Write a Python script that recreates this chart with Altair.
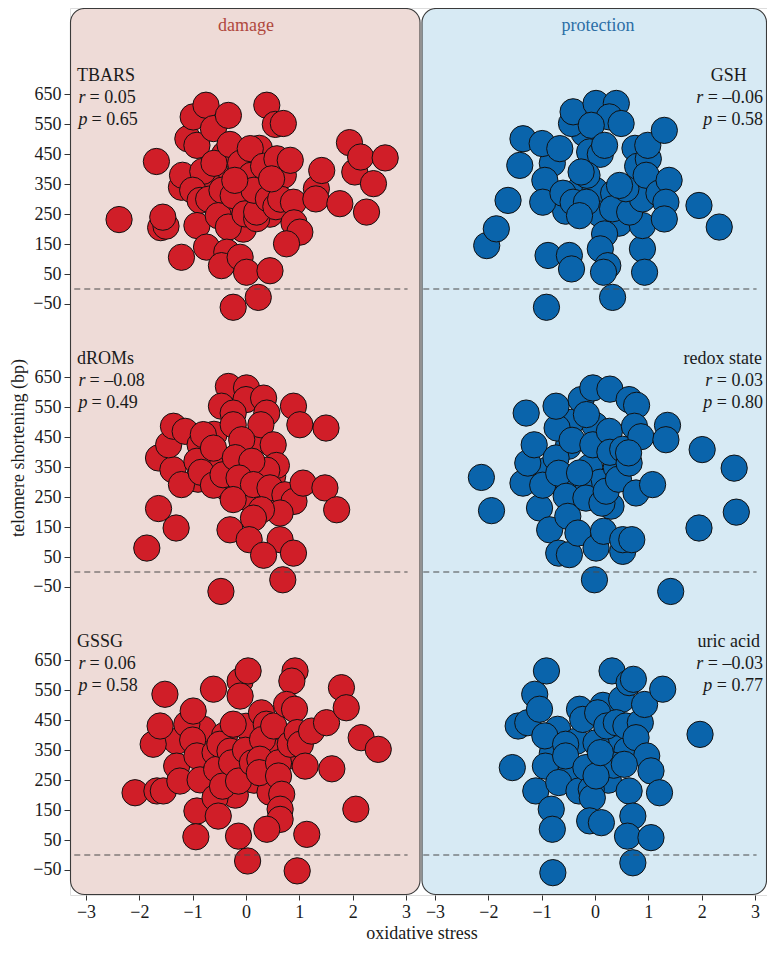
import altair as alt
import pandas as pd

# ---------------- data ----------------
tbars = [(-0.55,380),(-0.15,290),(0.05,330),(0.3,350),(-0.4,450),(0.25,470),(-0.7,350),(0.45,250),
         (-0.05,200),(0.7,380),
         (-2.38,232),(-1.68,426),(-1.6,205),(-1.5,210),(-1.56,240),(-1.21,106),(-1.21,340),(-1.19,380),
         (-1.09,502),(-0.99,575),(-0.75,614),(-0.92,480),(-0.81,393),(-1.0,330),(-0.86,296),(-0.7,300),
         (-0.92,212),(-0.74,140),(-0.61,536),(-0.6,420),(-0.33,580),(-0.30,483),(-0.45,330),(-0.52,245),
         (-0.33,207),(-0.24,312),(-0.1,420),(-0.36,123),(-0.46,78),(-0.11,106),(0.01,56),(-0.24,-61),
         (0.23,-28),(0.45,61),(-0.02,251),(0.2,235),(0.2,257),(0.1,380),(0.15,330),(0.08,469),(0.33,410),
         (0.42,301),(0.56,275),(0.65,300),(0.58,435),(0.39,614),(0.55,550),(0.7,553),(0.83,430),
         (0.89,290),(0.9,221),(1.01,190),(0.76,151),(1.32,335),(1.31,301),(1.42,396),(1.76,285),
         (1.94,489),(2.04,391),(2.15,441),(2.26,257),(2.39,352),(2.61,438),(-0.21,363),(0.48,368)]
gsh = [(-0.3,330),(0.0,330),(0.35,320),(0.6,300),(-0.55,260),(0.1,250),(0.45,220),(-0.2,520),
       (0.75,470),(-0.8,420),
       (-2.03,145),(-1.85,201),(-1.63,296),(-1.35,502),(-1.41,413),(-0.99,486),(-0.66,469),(-0.94,363),
       (-0.98,290),(-0.6,320),(-0.88,112),(-0.48,112),(-0.44,67),(-0.91,-61),(-0.44,553),(-0.41,592),
       (0.02,620),(0.40,620),(0.27,575),(0.49,553),(-0.07,547),(-0.1,458),(0.1,450),(0.18,480),
       (-0.15,380),(-0.41,290),(-0.16,290),(-0.29,245),(0.33,268),(0.18,184),(0.10,134),(0.24,78),
       (0.16,56),(0.33,-28),(0.89,134),(0.93,56),(0.89,212),(0.65,257),(0.89,301),(0.58,335),
       (0.46,346),(0.8,410),(1.0,435),(0.96,380),(0.99,480),(1.30,530),(1.2,320),(1.39,363),
       (1.33,290),(1.30,234),(1.95,279),(2.33,207),(-0.26,391)]
droms = [(-0.5,380),(-0.1,400),(0.25,440),(0.2,330),(-0.35,280),(0.5,320),(-0.9,310),(0.35,250),
         (0.0,250),(-0.6,460),
         (-1.86,80),(-1.64,212),(-1.31,147),(-1.64,381),(-1.37,342),(-1.21,292),(-1.45,425),(-1.36,487),
         (-1.14,470),(-0.86,425),(-0.92,370),(-0.84,333),(-0.8,459),(-0.61,414),(-0.61,290),(-0.43,325),
         (-0.33,620),(0.01,615),(0.0,576),(0.33,581),(-0.46,554),(-0.24,531),(0.39,531),(0.89,554),
         (1.01,492),(1.50,481),(0.28,492),(-0.24,492),(-0.08,442),(-0.2,382),(0.51,425),(0.57,356),
         (0.39,340),(0.11,370),(-0.13,314),(0.14,292),(0.45,281),(0.73,258),(0.9,236),(1.07,297),
         (1.48,281),(1.70,208),(0.64,197),(0.29,208),(0.14,180),(-0.24,242),(-0.30,141),(0.06,108),
         (0.64,108),(0.33,56),(0.89,63),(0.69,-26),(-0.47,-65)]
redox = [(-0.9,340),(-0.5,420),(-0.1,350),(0.1,300),(0.4,350),(-0.3,290),(-0.6,300),(0.3,220),
         (0.0,490),(-0.45,500),
         (-2.13,316),(-1.94,205),(-1.29,531),(-1.35,297),(-1.26,364),(-1.14,425),(-1.04,214),(-0.98,290),
         (-0.85,141),(-0.73,381),(-0.71,481),(-0.73,554),(-0.68,330),(-0.68,63),(-0.54,253),(-0.51,186),
         (-0.48,58),(-0.43,440),(-0.32,130),(-0.29,331),(-0.26,576),(-0.16,526),(-0.17,247),(-0.04,615),
         (-0.04,425),(0.02,80),(-0.01,-26),(0.13,230),(0.16,136),(0.21,270),(0.27,470),(0.28,400),
         (0.28,611),(0.44,310),(0.52,410),(0.52,69),(0.52,108),(0.69,108),(0.64,576),(0.78,557),
         (0.74,487),(0.86,452),(0.64,364),(0.63,398),(0.77,264),(1.08,292),(1.36,490),(1.33,442),
         (2.01,409),(2.61,347),(2.65,200),(1.95,147),(1.42,-65)]
gssg = [(-0.8,420),(-0.4,400),(0.0,430),(0.45,350),(-0.7,300),(0.15,250),(0.45,210),(-0.2,200),
        (0.8,330),(-1.3,380),
        (-2.08,208),(-1.67,214),(-1.55,214),(-1.74,370),(-1.61,431),(-1.52,537),(-1.30,297),(-1.24,247),
        (-1.11,437),(-0.99,481),(-1.0,384),(-0.92,331),(-0.86,251),(-0.92,147),(-0.94,61),(-0.58,191),
        (-0.52,130),(-0.61,554),(-0.58,342),(-0.55,286),(-0.49,370),(-0.44,230),(-0.11,581),(0.04,615),
        (-0.11,531),(-0.24,437),(-0.30,347),(-0.27,308),(-0.14,247),(-0.01,350),(0.12,308),(-0.14,63),
        (0.03,-20),(0.29,475),(0.38,437),(0.31,386),(0.26,320),(0.25,275),(0.52,431),(0.61,308),
        (0.61,264),(0.67,203),(0.64,153),(0.64,119),(0.39,86),(1.14,69),(0.96,-53),(0.92,615),
        (0.86,581),(0.76,503),(0.91,487),(0.83,370),(0.96,409),(1.02,370),(1.23,414),(1.11,297),
        (1.51,442),(1.61,288),(1.79,559),(1.88,492),(2.16,392),(2.48,353),(2.06,153)]
uric = [(-0.7,420),(-0.35,380),(0.3,370),(0.6,350),(-0.45,280),(0.25,250),(0.35,300),(-0.8,340),
        (0.15,500),(0.5,520),
        (-1.55,292),(-1.44,431),(-1.26,442),(-1.13,537),(-1.04,487),(-0.91,615),(-1.11,214),(-0.94,398),
        (-0.93,297),(-0.82,153),(-0.80,86),(-0.79,-59),(-0.68,242),(-0.55,370),(-0.55,331),(-0.3,214),
        (-0.29,487),(-0.23,453),(-0.17,292),(-0.07,220),(-0.05,191),(-0.10,114),(0.12,108),(0.02,264),
        (0.05,475),(0.02,375),(0.1,342),(0.22,431),(0.32,615),(0.40,442),(0.58,431),(0.64,576),
        (0.72,587),(0.85,442),(0.93,503),(1.27,554),(0.77,392),(0.97,331),(0.55,303),(1.05,281),
        (1.21,208),(0.64,214),(0.71,130),(0.61,63),(1.05,58),(0.71,-26),(1.97,403)]

panel_names = ["TBARS", "GSH", "dROMs", "redox state", "GSSG", "uric acid"]
panel_group = ["damage", "protection", "damage", "protection", "damage", "protection"]
panel_row = [0, 0, 1, 1, 2, 2]
panel_points = [tbars, gsh, droms, redox, gssg, uric]
r_values = ["0.05", "–0.06", "–0.08", "0.03", "0.06", "–0.03"]
p_values = ["0.65", "0.58", "0.49", "0.80", "0.58", "0.77"]

groups = ["damage", "protection"]
point_colors = ["#D01E28", "#0A64AB"]
bg_colors = ["#EEDBD7", "#D7EAF4"]
title_colors = ["#B0483D", "#2B6EA6"]

x_ticks = [-3, -2, -1, 0, 1, 2, 3]
y_ticks = [-50, 50, 150, 250, 350, 450, 550, 650]
x_title = "oxidative stress"
y_title = "telomere shortening (bp)"

# ---------------- layout helpers ----------------
PX_X = 53.33                  # px per x unit
PX_Y = 0.2993                 # px per y unit
ZERO_PX = [281, 564, 847]     # vertical pixel (from plot top) of each row's zero line
ROW_OFF = [(ZERO_PX[2] - z) / PX_Y for z in ZERO_PX]   # offsets on the shared y scale
COL_SHIFT = 6.544             # horizontal offset of the right panel on the shared x scale
W, H = 697, 887
FONT = "Liberation Serif"
FS = 18
TICK_FS = 18
INK = "#1a1a1a"

rows = []
for name, g, r, pts in zip(panel_names, panel_group, panel_row, panel_points):
    for (x, y) in pts:
        rows.append({"group": g, "row": r, "x": x, "y": y})
pts_df = pd.DataFrame(rows)

y_calc = f"datum.y + (datum.row == 0 ? {ROW_OFF[0]} : (datum.row == 1 ? {ROW_OFF[1]} : {ROW_OFF[2]}))"
x_calc = f"datum.x + (datum.group == 'protection' ? {COL_SHIFT} : 0)"

x0 = -3.3
y_top = ZERO_PX[2] / PX_Y
xscale = alt.Scale(domain=[x0, x0 + W / PX_X], nice=False, zero=False)
yscale = alt.Scale(domain=[y_top - H / PX_Y, y_top], nice=False, zero=False)

x_vals = x_ticks + [v + COL_SHIFT for v in x_ticks]
y_vals = [v + o for o in ROW_OFF for v in y_ticks]

x_label = f"format(round(datum.value > 3.2 ? datum.value - {COL_SHIFT} : datum.value), 'd')"
y_label = (f"format(round(datum.value > 1700 ? datum.value - {ROW_OFF[0]} : "
           f"(datum.value > 750 ? datum.value - {ROW_OFF[1]} : datum.value)), 'd')")

x_axis = alt.Axis(values=x_vals, labelExpr=x_label, title=None, domain=False, grid=False,
                  tickSize=5, tickColor="#333333", labelFont=FONT, labelFontSize=TICK_FS,
                  labelColor=INK, labelPadding=3, labelFlush=False, labelOverlap=False)
y_axis = alt.Axis(values=y_vals, labelExpr=y_label, title=None, domain=False, grid=False,
                  tickSize=6, tickColor="#333333", labelFont=FONT, labelFontSize=TICK_FS,
                  labelColor=INK, labelPadding=3, labelFlush=False, labelOverlap=False)

# background panels (pixel positions)
bg_df = pd.DataFrame({
    "x1": [0.5, 352.0], "x2": [350.0, W - 0.5],
    "y1": [0.5, 0.5], "y2": [H - 0.5, H - 0.5],
    "fill": bg_colors,
})
bg = alt.Chart(bg_df).mark_rect(cornerRadius=14, stroke="#3a3a3a", strokeWidth=1.1).encode(
    x=alt.X("x1:Q", scale=None, axis=None), x2="x2:Q",
    y=alt.Y("y1:Q", scale=None, axis=None), y2="y2:Q",
    fill=alt.Fill("fill:N", scale=None),
)

# points (carry the axes)
points = alt.Chart(pts_df).transform_calculate(xp=x_calc, yp=y_calc).mark_circle(
    size=690, opacity=1, stroke="#111111", strokeWidth=1.0
).encode(
    x=alt.X("xp:Q", scale=xscale, axis=x_axis),
    y=alt.Y("yp:Q", scale=yscale, axis=y_axis),
    color=alt.Color("group:N", scale=alt.Scale(domain=groups, range=point_colors), legend=None),
)

# dashed zero lines
rule_rows = []
for g_i, g in enumerate(groups):
    for r in range(3):
        rule_rows.append({"x1": -3.22 + g_i * COL_SHIFT, "x2": 3.03 + g_i * COL_SHIFT, "y": ROW_OFF[r]})
rule_df = pd.DataFrame(rule_rows)
rules = alt.Chart(rule_df).mark_rule(color="#4a4a4a", strokeDash=[6, 4], strokeWidth=1.1).encode(
    x=alt.X("x1:Q", scale=xscale, axis=x_axis), x2="x2:Q",
    y=alt.Y("y:Q", scale=yscale, axis=y_axis),
)

# panel titles and axis titles (pixel positions)
title_df = pd.DataFrame({"label": groups, "px": [176, 528], "py": [23, 23], "c": title_colors})
titles = alt.Chart(title_df).mark_text(font=FONT, fontSize=FS, align="center", baseline="alphabetic").encode(
    x=alt.X("px:Q", scale=None, axis=None), y=alt.Y("py:Q", scale=None, axis=None),
    text="label:N", color=alt.Color("c:N", scale=None),
)
xt = alt.Chart(pd.DataFrame({"t": [x_title], "px": [352], "py": [931]})).mark_text(
    font=FONT, fontSize=FS, align="center", baseline="alphabetic", color=INK
).encode(x=alt.X("px:Q", scale=None, axis=None), y=alt.Y("py:Q", scale=None, axis=None), text="t:N")
yt = alt.Chart(pd.DataFrame({"t": [y_title], "px": [-51], "py": [440]})).mark_text(
    font=FONT, fontSize=FS, align="center", baseline="middle", angle=270, color=INK
).encode(x=alt.X("px:Q", scale=None, axis=None), y=alt.Y("py:Q", scale=None, axis=None), text="t:N")

# annotations
CW = {"=": 0.564, " ": 0.25, "–": 0.5, ".": 0.25, "G": 0.722, "S": 0.556, "H": 0.722,
      "u": 0.5, "r": 0.333, "i": 0.278, "c": 0.444, "a": 0.444, "d": 0.5, "e": 0.444,
      "o": 0.5, "x": 0.5, "s": 0.389, "t": 0.278}
def text_w(s):
    return sum(CW.get(ch, 0.5) for ch in s) * FS

RIGHT_X = 692
LINE_Y = [694, 621, 548]
ann_rows = []
for name, g, r, rv, pv in zip(panel_names, panel_group, panel_row, r_values, p_values):
    base = ROW_OFF[r]
    if g == "damage":
        ann_rows.append({"side": "L", "kind": "name", "t": name, "px": 7, "y": base + LINE_Y[0]})
        for li, (letter, val, lw) in enumerate([("r", rv, 0.389), ("p", pv, 0.5)]):
            ann_rows.append({"side": "L", "kind": "letter", "t": letter, "px": 8.5, "y": base + LINE_Y[li + 1]})
            ann_rows.append({"side": "L", "kind": "value", "t": "= " + val,
                             "px": 8.5 + lw * FS + 4, "y": base + LINE_Y[li + 1]})
    else:
        r_line_w = text_w("= " + rv) + 4.5 + 0.389 * FS
        name_c = min(RIGHT_X - r_line_w / 2, RIGHT_X - text_w(name) / 2)
        ann_rows.append({"side": "C", "kind": "name", "t": name, "px": name_c, "y": base + LINE_Y[0]})
        for li, (letter, val) in enumerate([("r", rv), ("p", pv)]):
            v = "= " + val
            ann_rows.append({"side": "R", "kind": "value", "t": v, "px": RIGHT_X + 1, "y": base + LINE_Y[li + 1]})
            ann_rows.append({"side": "R", "kind": "letter", "t": letter,
                             "px": RIGHT_X + 1 - text_w(v) - 4.5, "y": base + LINE_Y[li + 1]})
ann_df = pd.DataFrame(ann_rows)

ann_layers = []
for side, align in [("L", "left"), ("R", "right"), ("C", "center")]:
    for kind in ["name", "letter", "value"]:
        if not ((ann_df["side"] == side) & (ann_df["kind"] == kind)).any():
            continue
        ann_layers.append(
            alt.Chart(ann_df).transform_filter(
                f"datum.side == '{side}' && datum.kind == '{kind}'"
            ).mark_text(font=FONT, fontSize=FS, align=align, baseline="alphabetic", color=INK,
                        fontStyle="italic" if kind == "letter" else "normal").encode(
                x=alt.X("px:Q", scale=None, axis=None),
                y=alt.Y("y:Q", scale=yscale, axis=y_axis),
                text="t:N",
            )
        )

chart = alt.layer(bg, points, rules, titles, xt, yt, *ann_layers).properties(
    width=W, height=H,
    autosize=alt.AutoSizeParams(type="none"),
    padding={"left": 62, "top": 0, "right": 0, "bottom": 47},
).configure_view(stroke=None).configure_axis(
    labelFont=FONT, labelFontSize=TICK_FS, labelColor=INK
).configure(background="white", font=FONT)

chart.save("out.html", embed_options={"renderer": "svg", "actions": False})
